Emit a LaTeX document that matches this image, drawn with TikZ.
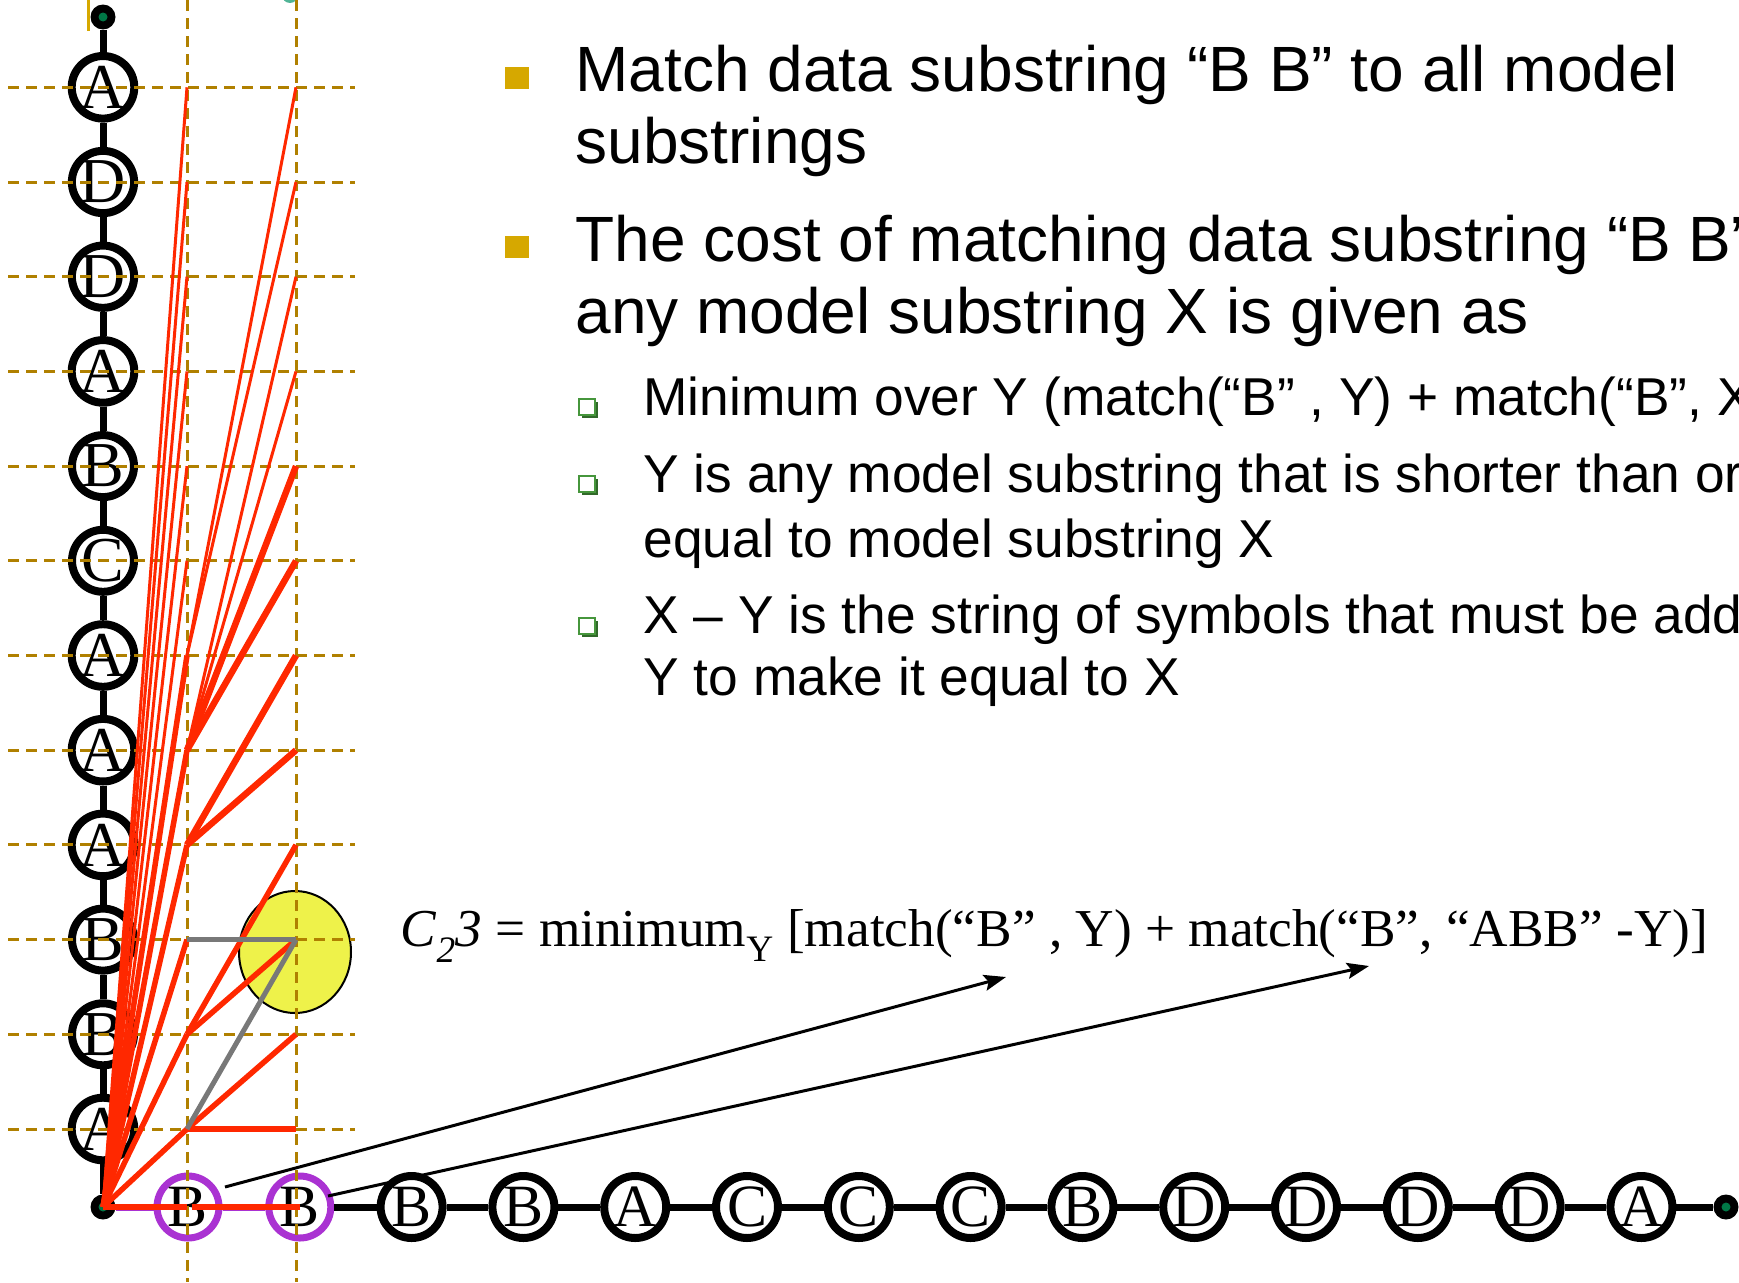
\documentclass[tikz,border=0pt]{standalone}
\usepackage{fontspec}
\setmainfont{Liberation Serif}
\newfontfamily\slidefont{Liberation Sans}
\usepackage{tikz}
\usetikzlibrary{arrows.meta, shapes.geometric, shadows}
\definecolor{trellisred}{RGB}{255,40,0}
\definecolor{gridgold}{RGB}{176,128,0}
\definecolor{bulletgold}{RGB}{214,168,0}
\definecolor{subgreen}{RGB}{70,150,60}
\definecolor{datapurple}{RGB}{170,50,210}
\definecolor{costyellow}{RGB}{238,242,74}
\definecolor{dotgreen}{RGB}{0,120,70}
\definecolor{titleteal}{RGB}{80,180,150}
\definecolor{altgrey}{RGB}{120,120,120}
\tikzset{
  sym/.style={circle, draw, line width=8pt, fill=white, minimum size=62pt,
              inner sep=0pt, font=\fontsize{60}{60}\selectfont},
  vsym/.style={sym, font=\fontsize{64}{64}\selectfont},
  datasym/.style={sym, draw=datapurple, line width=7pt},
  enddot/.style={circle, fill=black, minimum size=25pt, inner sep=0pt},
  chain/.style={line width=7pt},
  gridline/.style={gridgold, line width=3pt, dash pattern=on 11pt off 7pt},
  fanthin/.style={trellisred, line width=3pt},
  fanthick/.style={trellisred, line width=5.5pt},
  fanbold/.style={trellisred, line width=6.5pt},
  altpath/.style={altgrey, line width=5pt},
  pointer/.style={-{Stealth[length=22pt, width=16pt, inset=4pt]}, line width=3pt},
  mainbullet/.style={fill=bulletgold, minimum width=24pt, minimum height=22pt, inner sep=0pt},
  subbullet/.style={draw=subgreen, line width=2pt, fill=white, minimum size=16pt, inner sep=0pt,
                    drop shadow={shadow xshift=3pt, shadow yshift=-3pt, fill=subgreen!70!black, opacity=1}},
  slidetext/.style={anchor=base west, font=\slidefont\fontsize{64}{76}\selectfont},
  subtext/.style={anchor=base west, font=\slidefont\fontsize{53.3}{64}\selectfont}
}
\begin{document}
\begin{tikzpicture}[x=1pt, y=-1pt]
  \useasboundingbox (0,0) rectangle (1739,1282);
  % remnants of the slide at the top edge
  \fill[bulletgold] (86.5,0) rectangle (89.5,31);
  \fill[titleteal] (290,-5) circle (8pt);

  % model string (vertical) and data string (horizontal)
  \node[enddot] (top) at (103,17) {};
  \node[enddot] (org) at (103,1207) {};
  \node[enddot] (end) at (1726,1207) {};
  \fill[dotgreen] (top) circle (4.5pt);
  \fill[dotgreen] (org) circle (4.5pt);
  \fill[dotgreen] (end) circle (4.5pt);
  \foreach \l [count=\k] in {A,B,B,A,A,A,C,B,A,D,D,A}
    \node[vsym] (v\k) at (103,{1129-94.7*(\k-1)}) {\l};
  \node[datasym] (h1) at (188,1207) {B};
  \node[datasym] (h2) at (299.8,1207) {B};
  \foreach \l [count=\k from 3] in {B,B,A,C,C,C,B,D,D,D,D,A}
    \node[sym] (h\k) at ({188+111.8*(\k-1)},1207) {\l};

  \draw[chain] (top) -- (v12);
  \foreach \k [evaluate=\k as \j using int(\k-1)] in {12,...,2}
    \draw[chain] (v\k) -- (v\j);
  \draw[chain] (v1) -- (org);
  \draw[chain, datapurple] (org) -- (h1) -- (h2);
  \foreach \k [evaluate=\k as \j using int(\k+1)] in {2,...,13}
    \draw[chain] (h\k) -- (h\j);
  \draw[chain] (h14) -- (end);

  % cell being computed
  \node[ellipse, draw, line width=2pt, fill=costyellow,
        minimum width=112pt, minimum height=122pt] (hit) at (295,952) {};

  % grid
  \foreach \k in {1,...,12}
    \draw[gridline] (8,{1129-94.7*(\k-1)}) -- (355,{1129-94.7*(\k-1)});
  \draw[gridline] (187,0) -- (187,1282);
  \draw[gridline] (296,0) -- (296,1282);

  % trellis points
  \coordinate (p1-0) at (187,1207);
  \coordinate (p2-0) at (296,1207);
  \foreach \k in {1,...,12}{
    \coordinate (p1-\k) at (187,{1129-94.7*(\k-1)});
    \coordinate (p2-\k) at (296,{1129-94.7*(\k-1)});
  }

  % first data symbol
  \foreach \k in {7,...,12}
    \draw[fanthin] (org.center) -- (p1-\k);
  \foreach \k in {0,...,6}
    \draw[fanthick] (org.center) -- (p1-\k);
  % second data symbol
  \foreach \j/\k in {12/6,11/6,10/5,9/5}
    \draw[fanthin] (p1-\k) -- (p2-\j);
  \foreach \j/\k in {8/5,7/5,6/4,5/4}
    \draw[fanbold] (p1-\k) -- (p2-\j);
  \foreach \j/\k in {4/2,3/2,2/1,1/1}
    \draw[fanthick] (p1-\k) -- (p2-\j);
  \draw[fanthick] ([xshift=5pt]p1-0) -- ([xshift=4pt]p2-0);
  \draw[altpath] (p1-3) -- (p2-3);
  \draw[altpath] (p1-1) -- (p2-3);

  % formula
  \node[anchor=base west, font=\fontsize{53.3}{54}\selectfont] (cost) at (397,946)
    {\textit{C}\textsubscript{\textit{2}}\textit{3} = minimum\textsubscript{Y} [match(“B” , Y) + match(“B”, “ABB” -Y)]};
  \coordinate (a1) at (225,1187);
  \coordinate (a1tip) at (1006,977);
  \coordinate (a2) at (328,1196);
  \coordinate (a2tip) at (1369,966);
  \draw[pointer] (a1) -- (a1tip);
  \draw[pointer] (a2) -- (a2tip);

  % bullets
  \node[mainbullet] (m1) at (517,78) {};
  \node[mainbullet] (m2) at (517,247) {};
  \node[slidetext] (t1a) at (572,91) {Match data substring “B B” to all model};
  \node[slidetext] (t1b) at (572,163) {substrings};
  \node[slidetext] (t2a) at (572,261) {The cost of matching data substring “B B”};
  \node[slidetext] (t2b) at (572,333) {any model substring X is given as};
  \node[subbullet] (s1) at (587,407) {};
  \node[subbullet] (s2) at (587,484) {};
  \node[subbullet] (s3) at (587,626) {};
  \node[subtext] (u1) at (640,415) {Minimum over Y (match(“B” , Y) + match(“B”, X};
  \node[subtext] (u2a) at (640,492) {Y is any model substring that is shorter than or};
  \node[subtext] (u2b) at (640,557) {equal to model substring X};
  \node[subtext] (u3a) at (640,633) {X – Y is the string of symbols that must be add};
  \node[subtext] (u3b) at (640,695) {Y to make it equal to X};
\end{tikzpicture}
\end{document}
